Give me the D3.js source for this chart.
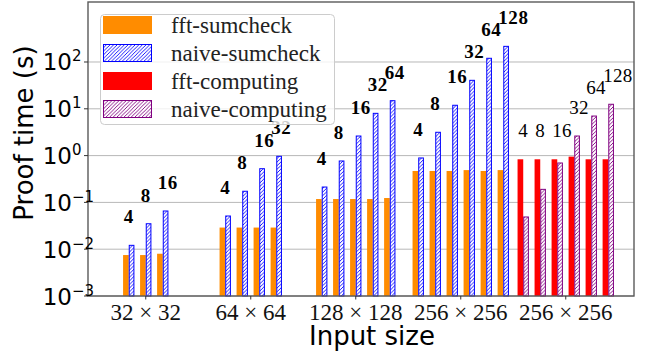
<!DOCTYPE html>
<html><head><meta charset="utf-8">
<script src="https://cdn.jsdelivr.net/npm/d3@7"></script>
<style>body{margin:0;background:#fff;} svg{display:block;}</style>
</head><body>
<svg id="c" width="647" height="354"></svg>
<script>
// ---- data ----
const groupLabels = ["32 × 32", "64 × 64", "128 × 128", "256 × 256", "256 × 256"];
const groupKinds = ["sumcheck", "sumcheck", "sumcheck", "sumcheck", "computing"];
const pairLabels = [[4, 8, 16], [4, 8, 16, 32], [4, 8, 16, 32, 64], [4, 8, 16, 32, 64, 128], [4, 8, 16, 32, 64, 128]];
const fftValues = [
  [0.0075, 0.0075, 0.008],
  [0.029, 0.029, 0.029, 0.029],
  [0.118, 0.118, 0.118, 0.118, 0.124],
  [0.469, 0.469, 0.469, 0.49, 0.469, 0.49],
  [0.834, 0.834, 0.834, 0.95, 0.834, 0.834]
];
const naiveValues = [
  [0.0121, 0.035, 0.0655],
  [0.0512, 0.173, 0.525, 0.966],
  [0.213, 0.767, 2.62, 8.0, 14.9],
  [0.89, 3.15, 11.9, 40.6, 120, 216],
  [0.0488, 0.19, 0.695, 2.62, 7.0, 12.5]
];
const yTickExps = [-3, -2, -1, 0, 1, 2];
const legendNames = ["fft-sumcheck", "naive-sumcheck", "fft-computing", "naive-computing"];

// ---- layout ----
const L = 88, R = 634, T = 2, B = 296;
const svg = d3.select("#c");
const x = d3.scaleLinear().domain([-0.55, 4.65]).range([L, R]);
const y = d3.scaleLog().domain([1e-3, Math.pow(10, 3.282)]).range([B, T]);
const barW = 0.054, step = 0.162;

const defs = svg.append("defs");
function hatch(id, color) {
  const p = defs.append("pattern").attr("id", id).attr("patternUnits", "userSpaceOnUse")
    .attr("width", 3.6).attr("height", 3.6);
  p.append("rect").attr("width", 3.6).attr("height", 3.6).attr("fill", "#fff");
  p.append("path").attr("d", "M-0.9,0.9 L0.9,-0.9 M0,3.6 L3.6,0 M2.7,4.5 L4.5,2.7")
    .attr("stroke", color).attr("stroke-width", 0.9);
}
hatch("hb", "#0000ff");
hatch("hp", "#800080");

// grid
svg.append("g").selectAll("line").data(yTickExps).join("line")
  .attr("x1", L).attr("x2", R)
  .attr("y1", d => y(Math.pow(10, d))).attr("y2", d => y(Math.pow(10, d)))
  .attr("stroke", "#b8b8b8").attr("stroke-width", 1);

const colors = {
  sumcheck: { fft: "#ff8c00", naive: "#0000ff", pat: "url(#hb)" },
  computing: { fft: "#ff0000", naive: "#800080", pat: "url(#hp)" }
};

const gBars = svg.append("g");
const gLab = svg.append("g");
groupLabels.forEach((gl, gi) => {
  const n = pairLabels[gi].length;
  const c = colors[groupKinds[gi]];
  const bold = groupKinds[gi] === "sumcheck";
  pairLabels[gi].forEach((pl, j) => {
    const bx = gi + (j - (n - 1) / 2) * step;
    const f = fftValues[gi][j], nv = naiveValues[gi][j];
    gBars.append("rect")
      .attr("x", x(bx - barW)).attr("width", x(bx) - x(bx - barW))
      .attr("y", y(f)).attr("height", B - y(f)).attr("fill", c.fft);
    gBars.append("rect")
      .attr("x", x(bx) + 0.5).attr("width", x(bx + barW) - x(bx) - 1)
      .attr("y", y(nv)).attr("height", B - y(nv))
      .attr("fill", c.pat).attr("stroke", c.naive).attr("stroke-width", 1);
    gLab.append("text")
      .attr("x", x(bx) - 5).attr("y", y(Math.max(f, nv)) - 22)
      .attr("font-family", "Liberation Serif").attr("font-size", 19)
      .attr("letter-spacing", bold ? 0.6 : 0.3)
      .attr("font-weight", bold ? "bold" : "normal")
      .attr("fill", "#000").text(pl);
  });
});

// spines
svg.append("rect").attr("x", L).attr("y", T).attr("width", R - L).attr("height", B - T)
  .attr("fill", "none").attr("stroke", "#5a5a5a").attr("stroke-width", 1.4);

// y ticks
const gy = svg.append("g");
yTickExps.forEach(e => {
  const yy = y(Math.pow(10, e));
  gy.append("line").attr("x1", L - 4).attr("x2", L).attr("y1", yy).attr("y2", yy)
    .attr("stroke", "#333").attr("stroke-width", 1);
  gy.append("text").attr("x", 72).attr("y", yy + 8.5).attr("text-anchor", "end")
    .attr("font-family", "DejaVu Sans").attr("font-size", 23).attr("fill", "#000").text("10");
  gy.append("text").attr("x", 72).attr("y", yy - 0.5)
    .attr("font-family", "DejaVu Sans").attr("font-size", 15).attr("fill", "#000")
    .text(e < 0 ? "−" + (-e) : String(e));
});

// x ticks
const gx = svg.append("g");
groupLabels.forEach((gl, gi) => {
  gx.append("line").attr("x1", x(gi)).attr("x2", x(gi)).attr("y1", B).attr("y2", B + 3.5)
    .attr("stroke", "#333").attr("stroke-width", 1);
  gx.append("text").attr("x", x(gi)).attr("y", 320).attr("text-anchor", "middle")
    .attr("font-family", "Liberation Serif").attr("font-size", 23).attr("fill", "#111").text(gl);
});

// axis titles
svg.append("text").attr("x", 372).attr("y", 345).attr("text-anchor", "middle")
  .attr("font-family", "DejaVu Sans").attr("font-size", 26).attr("fill", "#000").text("Input size");
svg.append("text").attr("transform", "translate(33,133) rotate(-90)").attr("text-anchor", "middle")
  .attr("font-family", "DejaVu Sans").attr("font-size", 26).attr("fill", "#000").text("Proof time (s)");

// legend
const lg = svg.append("g");
lg.append("rect").attr("x", 100.5).attr("y", 14.5).attr("width", 234).attr("height", 110)
  .attr("rx", 4).attr("fill", "#fff").attr("fill-opacity", 0.8)
  .attr("stroke", "#cccccc").attr("stroke-width", 1);
const legFill = [
  { fill: "#ff8c00", stroke: "none" },
  { fill: "url(#hb)", stroke: "#0000ff" },
  { fill: "#ff0000", stroke: "none" },
  { fill: "url(#hp)", stroke: "#800080" }
];
legendNames.forEach((nm, i) => {
  const yy = 16 + i * 28;
  lg.append("rect").attr("x", legFill[i].stroke === "none" ? 103 : 103.5)
    .attr("y", legFill[i].stroke === "none" ? yy : yy + 0.5)
    .attr("width", legFill[i].stroke === "none" ? 49 : 48).attr("height", legFill[i].stroke === "none" ? 18 : 17)
    .attr("fill", legFill[i].fill).attr("stroke", legFill[i].stroke).attr("stroke-width", 1);
  lg.append("text").attr("x", 171).attr("y", yy + 17).attr("font-family", "Liberation Serif")
    .attr("font-size", 23).attr("fill", "#222").text(nm);
});
</script>
</body></html>
